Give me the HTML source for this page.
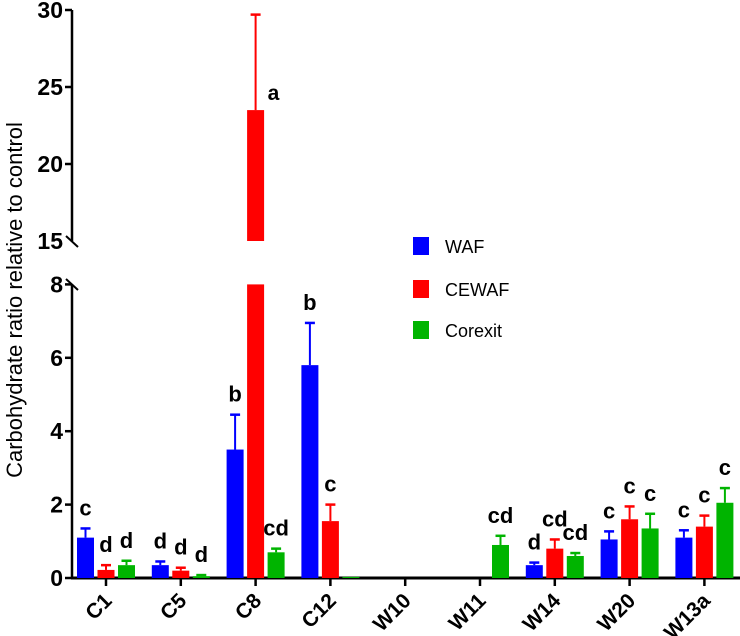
<!DOCTYPE html>
<html><head><meta charset="utf-8"><style>
body{margin:0;background:#fff;}
svg{display:block;font-family:"Liberation Sans",Arial,sans-serif;}
</style></head><body>
<svg id="chart" width="740" height="636">
<g id="axes"></g><g id="bars"></g><g id="legend"></g>
</svg>
<script>
const categories=["C1","C5","C8","C12","W10","W11","W14","W20","W13a"];
const seriesNames=["WAF","CEWAF","Corexit"];
const colors=["#0000ff","#ff0000","#00b400"];
const wafVals=[1.1,0.35,3.5,5.8,0,0,0.35,1.05,1.1];
const wafErr=[0.25,0.1,0.95,1.15,0,0,0.07,0.22,0.2];
const cewafVals=[0.22,0.2,23.5,1.55,0,0,0.8,1.6,1.4];
const cewafErr=[0.13,0.08,6.2,0.45,0,0,0.25,0.35,0.3];
const corVals=[0.35,0.05,0.7,0.03,0,0.9,0.6,1.35,2.05];
const corErr=[0.12,0.03,0.1,0,0,0.25,0.08,0.4,0.4];
const wafLetters=["c","d","b","b","","","d","c","c"];
const cewafLetters=["d","d","a","c","","","cd","c","c"];
const corLetters=["d","d","cd","","","cd","cd","c","c"];
const lowTicks=[0,2,4,6,8];
const highTicks=[15,20,25,30];

const NS="http://www.w3.org/2000/svg";
function mk(tag,attrs,parent,text){const e=document.createElementNS(NS,tag);for(const k in attrs)e.setAttribute(k,attrs[k]);if(text!==undefined)e.textContent=text;parent.appendChild(e);return e;}
const ax=document.getElementById('axes'),bg=document.getElementById('bars'),lg=document.getElementById('legend');
const X0=72;
function yLow(v){return 578-v*36.7;}
function yHigh(v){return 241-(v-15)*15.4;}
function xCat(i){return 106+i*74.8;}
let l=mk('line',{x1:X0,y1:yLow(0),x2:X0,y2:yLow(8),stroke:'#000','stroke-width':2.5},ax);

l=mk('line',{x1:X0,y1:yHigh(15),x2:X0,y2:yHigh(30),stroke:'#000','stroke-width':2.5},ax);

mk('line',{x1:66,y1:236,x2:78,y2:247,stroke:'#000','stroke-width':2},ax);
mk('line',{x1:66,y1:279,x2:78,y2:290,stroke:'#000','stroke-width':2},ax);
l=mk('line',{x1:X0-1,y1:yLow(0),x2:740,y2:yLow(0),stroke:'#000','stroke-width':3},ax);

lowTicks.forEach(t=>{mk('line',{x1:X0-7,y1:yLow(t),x2:X0,y2:yLow(t),stroke:'#000','stroke-width':2.5},ax);
 const tx=mk('text',{x:X0-9,y:yLow(t)+8,'text-anchor':'end','font-size':23,'font-weight':'bold'},ax,t);
 });
highTicks.forEach(t=>{if(t>15)mk('line',{x1:X0-7,y1:yHigh(t),x2:X0,y2:yHigh(t),stroke:'#000','stroke-width':2.5},ax);
 const tx=mk('text',{x:X0-9,y:yHigh(t)+8,'text-anchor':'end','font-size':23,'font-weight':'bold'},ax,t);
 });
categories.forEach((c,i)=>{const x=xCat(i);
 mk('line',{x1:x,y1:yLow(0),x2:x,y2:yLow(0)+8,stroke:'#000','stroke-width':2.5},ax);
 const tx=mk('text',{x:x+7,y:yLow(0)+24,'text-anchor':'end','font-size':21,'font-weight':'bold',transform:`rotate(-45 ${x+7} ${yLow(0)+24})`},ax,c);
 });
const yt=mk('text',{x:22,y:300,'text-anchor':'middle','font-size':22,transform:'rotate(-90 22 300)'},ax,'Carbohydrate ratio relative to control');

const vals=[wafVals,cewafVals,corVals],errs=[wafErr,cewafErr,corErr],lets=[wafLetters,cewafLetters,corLetters];
const offs=[-20.5,0,20.5],W=17;
categories.forEach((c,i)=>{for(let s=0;s<3;s++){
 const v=vals[s][i],e=errs[s][i],cx=xCat(i)+offs[s],col=colors[s];
 let topY,errY;
 if(v>8){
  const r1=mk('rect',{x:cx-W/2,y:yLow(8),width:W,height:yLow(0)-yLow(8),fill:col},bg);
  
  const r2=mk('rect',{x:cx-W/2,y:yHigh(v),width:W,height:yHigh(15)-yHigh(v),fill:col},bg);
  
  topY=yHigh(v);errY=yHigh(v+e);
 } else {
  topY=yLow(v);errY=yLow(v+e);
  if(v>0){const r=mk('rect',{x:cx-W/2,y:topY,width:W,height:yLow(0)-topY,fill:col},bg);
  }
 }
 if(e>0){mk('line',{x1:cx,y1:topY,x2:cx,y2:errY,stroke:col,'stroke-width':2},bg);
  mk('line',{x1:cx-5,y1:errY,x2:cx+5,y2:errY,stroke:col,'stroke-width':2.5},bg);}
 const L=lets[s][i];
 if(L){let t;
  if(v>8) t=mk('text',{x:cx+12,y:yHigh(v)-10,'font-size':21,'font-weight':'bold'},bg,L);
  else t=mk('text',{x:cx,y:errY-13,'text-anchor':'middle','font-size':22,'font-weight':'bold'},bg,L);
  }
}});
const ly=[246,289,330];
seriesNames.forEach((n,s)=>{
 const g=mk('g',{},lg);
 mk('rect',{x:413,y:ly[s]-9,width:16,height:18,fill:colors[s]},g);
 mk('text',{x:445,y:ly[s]+7,'font-size':18},g,n);
});
</script>
</body></html>
